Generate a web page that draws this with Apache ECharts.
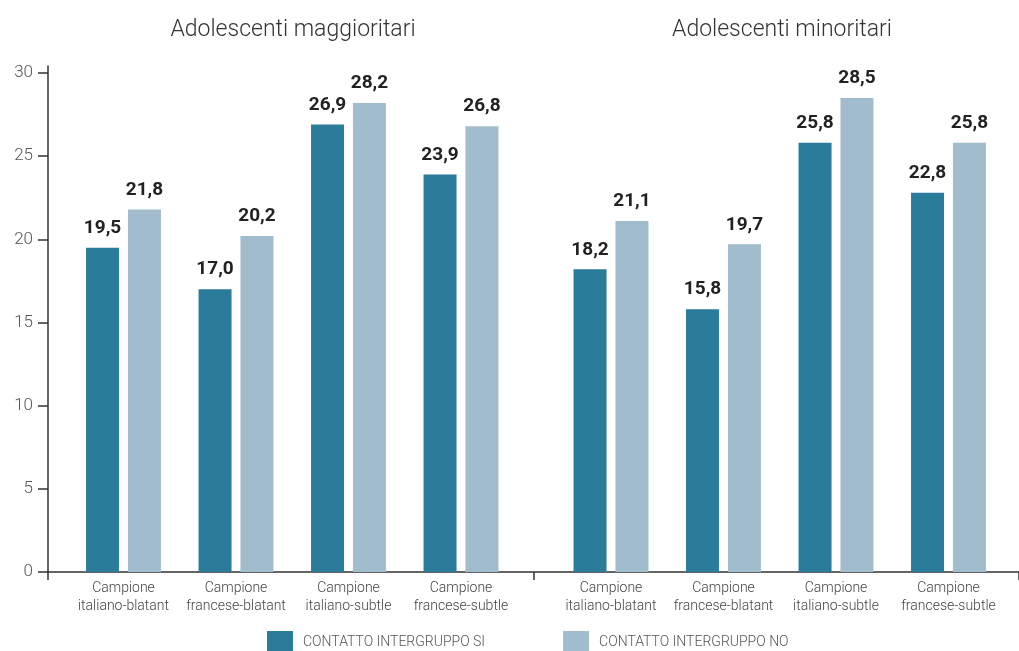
<!DOCTYPE html>
<html>
<head>
<meta charset="utf-8">
<script src="https://cdn.jsdelivr.net/npm/echarts@6/dist/echarts.min.js"></script>
<style>
html,body{margin:0;padding:0;background:#fff;}
#c{width:1019px;height:651px;}
</style>
</head>
<body>
<div id="c"></div>
<script>
const categories = ['Campione\nitaliano-blatant', 'Campione\nfrancese-blatant', 'Campione\nitaliano-subtle', 'Campione\nfrancese-subtle'];
const groupTitles = ['Adolescenti maggioritari', 'Adolescenti minoritari'];
const seriesNames = ['CONTATTO INTERGRUPPO SI', 'CONTATTO INTERGRUPPO NO'];
const maggSi = [19.5, 17.0, 26.9, 23.9];
const maggNo = [21.8, 20.2, 28.2, 26.8];
const minSi = [18.2, 15.8, 25.8, 22.8];
const minNo = [21.1, 19.7, 28.5, 25.8];
const yTicks = [0, 5, 10, 15, 20, 25, 30];

const C_DARK = '#2b7b9b';
const C_LIGHT = '#a0bccd';
const FONT = 'Roboto';

const chart = echarts.init(document.getElementById('c'), null, {renderer: 'canvas'});

const labelCfg = {
  show: true, position: 'top', distance: 10,
  fontFamily: FONT, fontWeight: 'bold', fontSize: 19, color: '#222',
  formatter: p => p.value.toFixed(1).replace('.', ',')
};
const catLabel = {
  fontFamily: FONT, fontWeight: 300, fontSize: 14, color: '#444',
  lineHeight: 18, margin: 7, interval: 0
};

function bar(name, data, idx, color) {
  return {
    type: 'bar', name: name, data: data,
    xAxisIndex: idx, yAxisIndex: idx,
    barWidth: 33, barGap: '27%',
    itemStyle: {color: color},
    label: labelCfg
  };
}

const option = {
  backgroundColor: '#fff',
  animation: false,
  title: [
    {text: groupTitles[0], left: 288, top: 14, textAlign: 'center',
     textStyle: {fontFamily: FONT, fontWeight: 300, fontSize: 23, color: '#333'}},
    {text: groupTitles[1], left: 777, top: 14, textAlign: 'center',
     textStyle: {fontFamily: FONT, fontWeight: 300, fontSize: 23, color: '#333'}}
  ],
  legend: {
    data: seriesNames,
    left: 267, top: 631, padding: 0,
    itemWidth: 26, itemHeight: 22, itemGap: 78,
    icon: 'rect',
    textStyle: {fontFamily: FONT, fontWeight: 300, fontSize: 14, color: '#555', padding: [0, 0, 0, 5]}
  },
  grid: [
    {left: 48, top: 66, width: 976, bottom: 79},
    {left: 67.25, top: 73, width: 450, bottom: 79},
    {left: 554.75, top: 73, width: 450, bottom: 79}
  ],
  xAxis: [
    {gridIndex: 0, type: 'category', data: ['', ''], boundaryGap: true,
     axisLine: {show: true, lineStyle: {color: '#333', width: 1.5}},
     axisTick: {show: true, length: 8, lineStyle: {color: '#333', width: 1.5}},
     axisLabel: {show: false}, splitLine: {show: false}},
    {gridIndex: 1, type: 'category', data: categories,
     axisLine: {show: false}, axisTick: {show: false}, axisLabel: catLabel},
    {gridIndex: 2, type: 'category', data: categories,
     axisLine: {show: false}, axisTick: {show: false}, axisLabel: catLabel}
  ],
  yAxis: [
    {gridIndex: 0, type: 'value', min: 0, max: 30.42,
     axisLine: {show: true, lineStyle: {color: '#333', width: 1.5}},
     axisTick: {show: false}, axisLabel: {show: false}, splitLine: {show: false}},
    {gridIndex: 1, type: 'value', min: yTicks[0], max: yTicks[yTicks.length - 1], interval: 5,
     offset: 19.25,
     axisLine: {show: false},
     axisTick: {show: true, length: 10, lineStyle: {color: '#333', width: 1.5}},
     axisLabel: {show: true, fontFamily: FONT, fontWeight: 300, fontSize: 17, color: '#555', margin: 15},
     splitLine: {show: false}},
    {gridIndex: 2, type: 'value', min: yTicks[0], max: yTicks[yTicks.length - 1], interval: 5,
     show: false, splitLine: {show: false}}
  ],
  series: [
    bar(seriesNames[0], maggSi, 1, C_DARK),
    bar(seriesNames[1], maggNo, 1, C_LIGHT),
    bar(seriesNames[0], minSi, 2, C_DARK),
    bar(seriesNames[1], minNo, 2, C_LIGHT)
  ]
};
chart.setOption(option);
</script>
</body>
</html>
